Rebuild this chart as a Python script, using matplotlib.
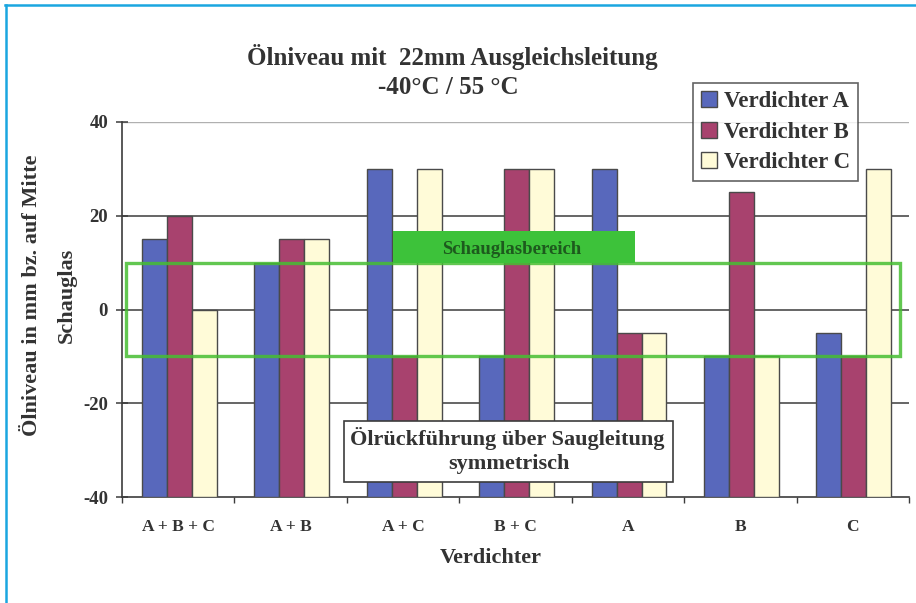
import matplotlib
matplotlib.use("Agg")
import matplotlib.pyplot as plt
import matplotlib.transforms as mtransforms
from matplotlib.patches import Rectangle
import numpy as np

# Data
categories = ["A + B + C", "A + B", "A + C", "B + C", "A", "B", "C"]
verdichter_a = [15, 10, 30, -10, 30, -10, -5]
verdichter_b = [20, 15, -10, 30, -5, 25, -10]
verdichter_c = [0, 15, 30, 30, -5, -10, 30]
series_names = ["Verdichter A", "Verdichter B", "Verdichter C"]
y_ticks = [-40, -20, 0, 20, 40]
sight_glass_range = (-10, 10)

colors = ["#5868BC", "#A8426E", "#FFFBD8"]
edge = "#4a4a4a"
text_col = "#333333"
serif = ["Liberation Serif", "DejaVu Serif"]

W, H = 916, 603
fig = plt.figure(figsize=(W / 100, H / 100), dpi=100)
fig.patch.set_facecolor("white")

def fx(px):
    return px / W

def fy(py):
    return 1 - py / H

ax = fig.add_axes([fx(122), fy(497), fx(909) - fx(122), fy(122) - fy(497)])
ymin, ymax = y_ticks[0], y_ticks[-1]
ax.set_ylim(ymin, ymax)
ax.set_xlim(-0.5, len(categories) - 0.5)

x = np.arange(len(categories))
bw = 0.222
for i, (vals, col, name) in enumerate(zip([verdichter_a, verdichter_b, verdichter_c], colors, series_names)):
    heights = np.array(vals) - ymin
    ax.bar(x + (i - 1) * bw + 0.01, heights, bottom=ymin, width=bw, color=col,
           edgecolor=edge, linewidth=1.0, label=name, zorder=3)

# Gridlines
for yv in y_ticks[1:-1]:
    ax.axhline(yv, color="#3c3c3c", linewidth=1.1, zorder=1)
ax.axhline(ymax, color="#b0b0b0", linewidth=1.0, zorder=1)

# Axes styling
for s in ["top", "right"]:
    ax.spines[s].set_visible(False)
for s in ["left", "bottom"]:
    ax.spines[s].set_color("#3c3c3c")
    ax.spines[s].set_linewidth(1.2)

ax.set_yticks(y_ticks)
ax.set_yticklabels([str(v) for v in y_ticks], fontfamily=serif,
                   fontweight="bold", fontsize=13.5, color=text_col)
ax.tick_params(axis="y", direction="inout", length=8, width=1.1, color="#3c3c3c", pad=6)

ax.set_xticks(x)
ax.set_xticklabels(categories, fontfamily=serif, fontweight="bold",
                   fontsize=12.5, color=text_col)
ax.tick_params(axis="x", length=0, pad=16)
# Category separator ticks
ax.set_xticks(np.arange(len(categories) + 1) - 0.5, minor=True)
ax.tick_params(axis="x", which="minor", direction="out", length=4,
               width=1.0, color="#3c3c3c")

# Axis titles
fig.text(fx(491), fy(558), "Verdichter", ha="center", va="center",
         fontfamily=serif, fontweight="bold", fontsize=16, color=text_col)
fig.text(fx(32), fy(295), "Ölniveau in mm bz. auf Mitte", ha="center", va="center",
         rotation=90, fontfamily=serif, fontweight="bold", fontsize=16, color=text_col)
fig.text(fx(67), fy(295), "Schauglas", ha="center", va="center",
         rotation=90, fontfamily=serif, fontweight="bold", fontsize=16, color=text_col)

# Sight glass range band outline
trans = mtransforms.blended_transform_factory(ax.transAxes, ax.transData)
ax.add_patch(Rectangle((0.005, sight_glass_range[0]), 0.984,
                       sight_glass_range[1] - sight_glass_range[0],
                       transform=trans, fill=False, edgecolor="#46BE32",
                       linewidth=2.4, alpha=0.85, zorder=5))

# Sight glass label box
fig.patches.append(Rectangle((fx(393), fy(263)), fx(635) - fx(393), fy(231) - fy(263),
                             transform=fig.transFigure, facecolor="#3DC23A",
                             edgecolor="none", zorder=6))
fig.text(fx(512), fy(249), "Schauglasbereich", ha="center", va="center",
         fontfamily=serif, fontweight="bold", fontsize=13.5, color="#1d5a1d", zorder=7)

# Oil return note box
fig.patches.append(Rectangle((fx(344), fy(482)), fx(673) - fx(344), fy(421) - fy(482),
                             transform=fig.transFigure, facecolor="white",
                             edgecolor="#3c3c3c", linewidth=1.2, zorder=6))
fig.text(fx(507), fy(438), "Ölrückführung über Saugleitung",
         ha="center", va="center", fontfamily=serif, fontweight="bold",
         fontsize=16, color=text_col, zorder=7)
fig.text(fx(509), fy(464), "symmetrisch",
         ha="center", va="center", fontfamily=serif, fontweight="bold",
         fontsize=16, color=text_col, zorder=7)

# Title
fig.text(fx(452), fy(57), "Ölniveau mit  22mm Ausgleichsleitung", ha="center",
         va="center", fontfamily=serif, fontweight="bold", fontsize=18, color=text_col)
fig.text(fx(448), fy(87), "-40°C / 55 °C", ha="center", va="center",
         fontfamily=serif, fontweight="bold", fontsize=18, color=text_col)

# Legend
leg = ax.legend(loc="upper left", bbox_to_anchor=(fx(693), fy(83)),
                bbox_transform=fig.transFigure, frameon=True, fancybox=False,
                prop={"family": serif, "weight": "bold", "size": 16.5},
                handlelength=0.7, handleheight=0.7, handletextpad=0.3,
                borderpad=0.35, labelspacing=0.42, borderaxespad=0)
leg.get_frame().set_edgecolor("#3c3c3c")
leg.get_frame().set_linewidth(1.2)
for t in leg.get_texts():
    t.set_color(text_col)
leg.set_zorder(8)

# Page frame lines (top and left)
fig.add_artist(plt.Line2D([fx(5), 1], [fy(5), fy(5)], transform=fig.transFigure,
                          color="#1AA6E0", linewidth=1.8))
fig.add_artist(plt.Line2D([fx(6), fx(6)], [fy(5), 0], transform=fig.transFigure,
                          color="#1AA6E0", linewidth=1.8))

fig.savefig("out.png", dpi=100)
